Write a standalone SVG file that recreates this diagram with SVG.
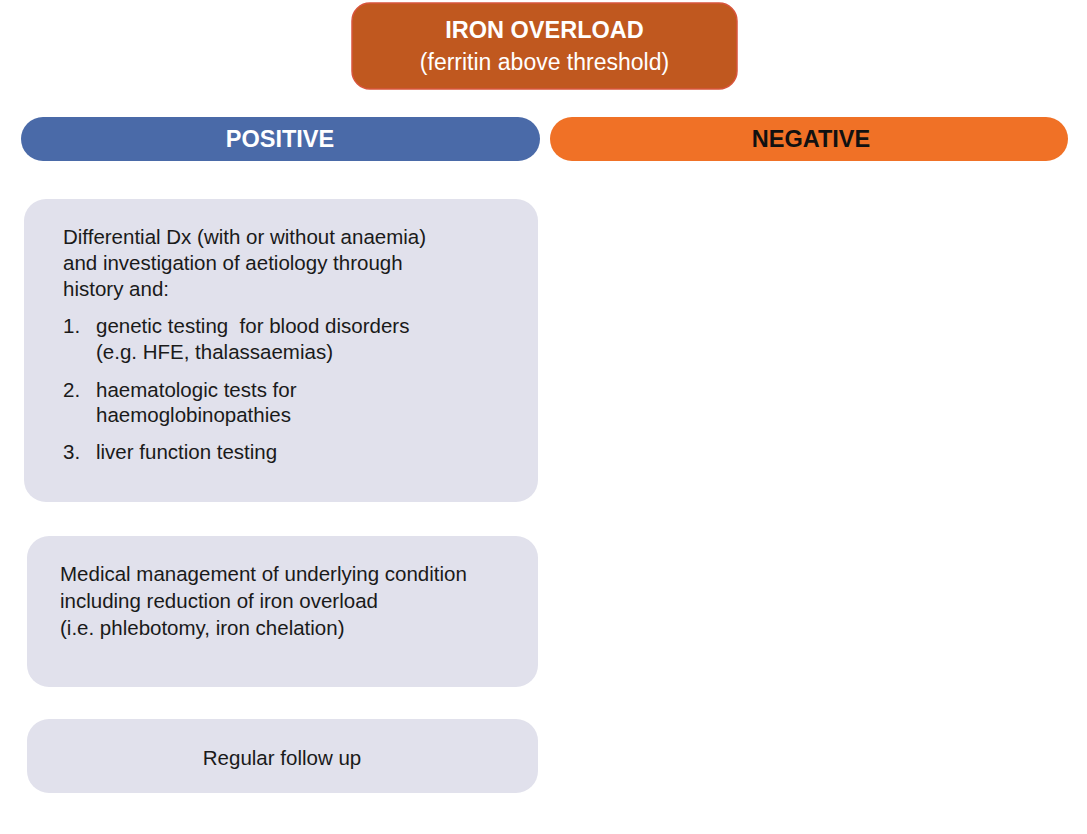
<svg xmlns="http://www.w3.org/2000/svg" width="1087" height="834" viewBox="0 0 1087 834">
<style>
.t{font-family:"Liberation Sans",Arial,sans-serif;font-size:20.5px;fill:#1a1a1a;white-space:pre}
.h{font-family:"Liberation Sans",Arial,sans-serif;font-size:23.5px;font-weight:bold}
.box{fill:#E1E1EC}
</style>
<rect width="1087" height="834" fill="#ffffff"/>
<g id="iron-overload">
<rect x="352" y="3" width="385" height="86" rx="18" fill="#C0581F" stroke="#D8553C" stroke-width="1.5"/>
<text class="h" x="544.5" y="38" text-anchor="middle" fill="#ffffff">IRON OVERLOAD</text>
<text class="t" x="544.5" y="70" text-anchor="middle" style="fill:#ffffff;font-size:23px">(ferritin above threshold)</text>
</g>
<g id="positive">
<rect x="21" y="117" width="519" height="44" rx="22" fill="#4A6AA8"/>
<text class="h" x="280" y="147" text-anchor="middle" fill="#ffffff">POSITIVE</text>
</g>
<g id="negative">
<rect x="550" y="117" width="518" height="44" rx="22" fill="#F07126"/>
<text class="h" x="811" y="147" text-anchor="middle" fill="#111111">NEGATIVE</text>
</g>
<g id="diagnosis">
<rect class="box" x="24" y="199" width="514" height="303" rx="22"/>
<text class="t" x="63" y="244">Differential Dx (with or without anaemia)</text>
<text class="t" x="63" y="270">and investigation of aetiology through</text>
<text class="t" x="63" y="296">history and:</text>
<text class="t" x="63" y="333">1.</text>
<text class="t" x="96" y="333">genetic testing  for blood disorders</text>
<text class="t" x="96" y="359">(e.g. HFE, thalassaemias)</text>
<text class="t" x="63" y="397">2.</text>
<text class="t" x="96" y="397">haematologic tests for</text>
<text class="t" x="96" y="422">haemoglobinopathies</text>
<text class="t" x="63" y="459">3.</text>
<text class="t" x="96" y="459">liver function testing</text>
</g>
<g id="management">
<rect class="box" x="27" y="536" width="511" height="151" rx="22"/>
<text class="t" x="60" y="581">Medical management of underlying condition</text>
<text class="t" x="60" y="608">including reduction of iron overload</text>
<text class="t" x="60" y="635">(i.e. phlebotomy, iron chelation)</text>
</g>
<g id="follow-up">
<rect class="box" x="27" y="719" width="511" height="74" rx="22"/>
<text class="t" x="282" y="765" text-anchor="middle">Regular follow up</text>
</g>
<g id="connectors"></g>
</svg>
